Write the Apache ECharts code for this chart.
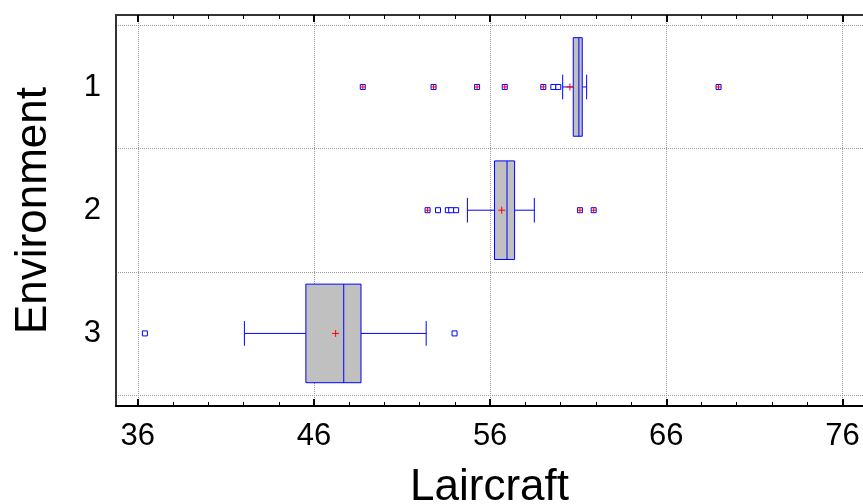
<!DOCTYPE html>
<html>
<head>
<meta charset="utf-8">
<script src="https://cdn.jsdelivr.net/npm/echarts@6/dist/echarts.min.js"></script>
<style>
html,body{margin:0;padding:0;background:#fff;}
#chart{width:863px;height:504px;}
</style>
</head>
<body>
<div id="chart"></div>
<script>
// ---- data ----
const groups = ['1', '2', '3'];
const whiskerLow  = [60.12, 54.71, 42.05];
const q1          = [60.72, 56.25, 45.54];
const median      = [61.04, 56.96, 47.69];
const q3          = [61.23, 57.39, 48.67];
const whiskerHigh = [61.48, 58.51, 52.37];
const means       = [60.53, 56.66, 47.23];
// outside points (plain squares)
const outside1 = [59.59, 59.87];
const outside2 = [53.04, 53.60, 53.79, 54.07];
const outside3 = [36.40, 53.98];
// far outside points (squares with plus)
const far1 = [48.77, 52.79, 55.26, 56.83, 59.02, 68.97];
const far2 = [52.45, 61.10, 61.88];
const far3 = [];
const xMajorTicks = [36, 46, 56, 66, 76];
const xMinorTicks = [36,38,40,42,44,46,48,50,52,54,56,58,60,62,64,66,68,70,72,74,76];
const yGridValues = [0.5, 1.5, 2.5, 3.5];
const yLabelValues = [1, 2, 3];

const X_MIN = 34.76, X_MAX = 77.17;
const Y_MIN = 0.416, Y_MAX = 3.589;

const BLUE = '#0000ff';
const RED = '#ff0000';
const FONT = '"Liberation Sans", Arial, sans-serif';

const boxData = groups.map((g, i) => [i + 1, whiskerLow[i], q1[i], median[i], q3[i], whiskerHigh[i], means[i]]);
const outData = [];
[outside1, outside2, outside3].forEach((arr, gi) => arr.forEach(v => outData.push([v, gi + 1, 0])));
[far1, far2, far3].forEach((arr, gi) => arr.forEach(v => outData.push([v, gi + 1, 1])));

function plusShape(cx, cy, s, color) {
  return [
    { type: 'line', shape: { x1: cx - s, y1: cy, x2: cx + s, y2: cy }, style: { stroke: color, lineWidth: 1 } },
    { type: 'line', shape: { x1: cx, y1: cy - s, x2: cx, y2: cy + s }, style: { stroke: color, lineWidth: 1 } }
  ];
}

function renderBox(params, api) {
  const y = api.value(0);
  const band = Math.abs(api.size([0, 1])[1]);
  const bh = band * 0.8, ch = band * 0.2;
  const pWl = api.coord([api.value(1), y]);
  const pQ1 = api.coord([api.value(2), y]);
  const pMd = api.coord([api.value(3), y]);
  const pQ3 = api.coord([api.value(4), y]);
  const pWh = api.coord([api.value(5), y]);
  const pMn = api.coord([api.value(6), y]);
  const cy = pQ1[1];
  const ls = { stroke: BLUE, lineWidth: 1 };
  const children = [
    { type: 'line', shape: { x1: pWl[0], y1: cy, x2: pQ1[0], y2: cy }, style: ls },
    { type: 'line', shape: { x1: pQ3[0], y1: cy, x2: pWh[0], y2: cy }, style: ls },
    { type: 'line', shape: { x1: pWl[0], y1: cy - ch / 2, x2: pWl[0], y2: cy + ch / 2 }, style: ls },
    { type: 'line', shape: { x1: pWh[0], y1: cy - ch / 2, x2: pWh[0], y2: cy + ch / 2 }, style: ls },
    { type: 'rect', shape: { x: pQ1[0], y: cy - bh / 2, width: pQ3[0] - pQ1[0], height: bh },
      style: { fill: '#c0c0c0', stroke: BLUE, lineWidth: 1 } },
    { type: 'line', shape: { x1: pMd[0], y1: cy - bh / 2, x2: pMd[0], y2: cy + bh / 2 }, style: ls }
  ].concat(plusShape(pMn[0], cy, 3.5, RED));
  return { type: 'group', children: children };
}

function renderOut(params, api) {
  const p = api.coord([api.value(0), api.value(1)]);
  const s = 5;
  const children = [
    { type: 'rect', shape: { x: p[0] - s / 2, y: p[1] - s / 2, width: s, height: s },
      style: { fill: '#fff', stroke: BLUE, lineWidth: 1 } }
  ];
  if (api.value(2) === 1) children.push.apply(children, plusShape(p[0], p[1], 2.5, RED));
  return { type: 'group', children: children };
}

const chart = echarts.init(document.getElementById('chart'), null, { renderer: 'canvas' });

const baseX = { type: 'value', min: X_MIN, max: X_MAX, gridIndex: 0 };
const option = {
  animation: false,
  backgroundColor: '#fff',
  grid: { left: 116, top: 15, right: 0, bottom: 98, containLabel: false, outerBoundsMode: 'none' },
  xAxis: [
    Object.assign({}, baseX, {
      position: 'bottom',
      name: 'Laircraft', nameLocation: 'middle', nameGap: 60,
      nameTextStyle: { fontFamily: FONT, fontSize: 44, color: '#000' },
      axisLine: { show: true, lineStyle: { color: '#000', width: 2 } },
      axisTick: { show: true, inside: true, length: 7, customValues: xMajorTicks, lineStyle: { color: '#000', width: 2 } },
      axisLabel: { show: true, customValues: xMajorTicks, margin: 15, fontFamily: FONT, fontSize: 31, color: '#000' },
      splitLine: { show: true, lineStyle: { color: '#999', type: 'dotted', width: 1 } }
    }),
    Object.assign({}, baseX, {
      position: 'bottom',
      axisLine: { show: false },
      axisTick: { show: true, inside: true, length: 4, customValues: xMinorTicks, lineStyle: { color: '#000', width: 1 } },
      axisLabel: { show: false },
      splitLine: { show: false }
    }),
    Object.assign({}, baseX, {
      position: 'top',
      axisLine: { show: true, lineStyle: { color: '#333', width: 2 } },
      axisTick: { show: true, inside: true, length: 7, customValues: xMajorTicks, lineStyle: { color: '#000', width: 2 } },
      axisLabel: { show: false },
      splitLine: { show: false }
    }),
    Object.assign({}, baseX, {
      position: 'top',
      axisLine: { show: false },
      axisTick: { show: true, inside: true, length: 4, customValues: xMinorTicks, lineStyle: { color: '#000', width: 1 } },
      axisLabel: { show: false },
      splitLine: { show: false }
    })
  ],
  yAxis: [{
    type: 'value', inverse: true, min: Y_MIN, max: Y_MAX, position: 'left',
    name: 'Environment', nameLocation: 'middle', nameGap: 60,
    nameTextStyle: { fontFamily: FONT, fontSize: 44, color: '#000' },
    axisLine: { show: true, lineStyle: { color: '#333', width: 2 } },
    axisTick: { show: false, customValues: yGridValues },
    axisLabel: { show: true, customValues: yLabelValues, margin: 15, fontFamily: FONT, fontSize: 31, color: '#000' },
    splitLine: { show: true, lineStyle: { color: '#999', type: 'dotted', width: 1 } }
  }],
  series: [
    {
      type: 'custom', xAxisIndex: 0, yAxisIndex: 0,
      renderItem: renderBox,
      encode: { x: [1, 2, 3, 4, 5, 6], y: 0 },
      data: boxData, z: 5
    },
    {
      type: 'custom', xAxisIndex: 0, yAxisIndex: 0,
      renderItem: renderOut,
      encode: { x: 0, y: 1 },
      data: outData, z: 6
    }
  ]
};
chart.setOption(option);
</script>
</body>
</html>
